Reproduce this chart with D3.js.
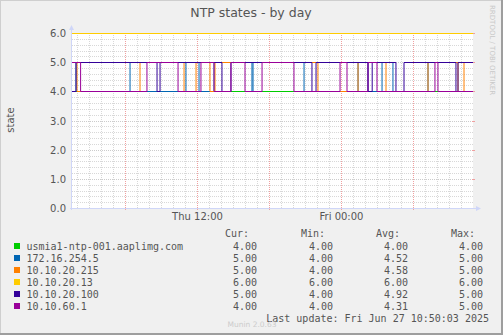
<!DOCTYPE html>
<html>
<head>
<meta charset="utf-8">
<script src="https://cdn.jsdelivr.net/npm/d3@7"></script>
<style>
  body { margin: 0; background: #F0F0F0; }
  svg text { font-family: "DejaVu Sans", sans-serif; fill: #555; }
  .mono { font-family: "DejaVu Sans Mono", monospace; font-size: 10px; }
</style>
</head>
<body>
<svg id="chart" width="503" height="335"></svg>
<script>
// hours counted from Thu 00:00 (Jun 26 2025)
const startHour = 1.583;
const endHour = 35.0;

// each series: change points [hour, value]
const seriesNames = ["usmia1-ntp-001.aaplimg.com", "172.16.254.5", "10.10.20.215", "10.10.20.13", "10.10.20.100", "10.10.60.1"];
const seriesColors = ["#00CC00", "#0066B3", "#FF8000", "#FFCC00", "#330099", "#990099"];

const greenSteps = [[1.583, 4]];
const blueSteps = [[1.583, 4], [1.92, 5], [6.42, 4], [11.08, 5], [12.17, 4], [13.42, 5], [16.58, 4], [16.67, 5],
    [20.92, 4], [25.42, 5], [26.25, 4], [27.42, 5], [28.33, 4], [31.25, 5]];
const orangeSteps = [[1.583, 5], [2.0, 4], [7.25, 5], [10.92, 4], [11.92, 5], [13.08, 4], [13.5, 5], [22.08, 4],
    [25.42, 5], [27.75, 4], [31.25, 5], [33.75, 4], [34.25, 5]];
const yellowSteps = [[1.583, 6]];
const purpleSteps = [[1.583, 4], [1.92, 5], [8.67, 4], [8.92, 5], [14.08, 4], [14.83, 5], [21.58, 4], [21.92, 5],
    [26.25, 4], [26.6, 5], [28.58, 4], [29.25, 5], [33.58, 4], [33.75, 5]];
const magentaSteps = [[1.583, 5], [2.3, 4], [7.83, 5], [10.42, 4], [12.33, 5], [13.42, 4], [14.83, 5], [16.0, 4],
    [17.42, 5], [20.08, 4], [23.92, 5], [24.5, 4], [26.25, 5], [27.0, 4], [31.83, 5], [32.08, 4]];

const curValues = ["4.00", "5.00", "5.00", "6.00", "5.00", "4.00"];
const minValues = ["4.00", "4.00", "4.00", "6.00", "4.00", "4.00"];
const avgValues = ["4.00", "4.52", "4.58", "6.00", "4.92", "4.31"];
const maxValues = ["4.00", "5.00", "5.00", "6.00", "5.00", "5.00"];

const yTicks = [0, 1, 2, 3, 4, 5, 6];
const xTicks = [12, 24];
const xTickLabels = ["Thu 12:00", "Fri 00:00"];

const svg = d3.select("#chart");
const W = 503, H = 335;
const pLeft = 72, pRight = 473, pTop = 33, pBottom = 208;

// frame
svg.append("rect").attr("width", W).attr("height", H).attr("fill", "#F0F0F0");
svg.append("line").attr("x1", 0).attr("x2", W).attr("y1", 0.5).attr("y2", 0.5).attr("stroke", "#CFCFCF");
svg.append("line").attr("x1", 0.5).attr("x2", 0.5).attr("y1", 0).attr("y2", H).attr("stroke", "#CFCFCF");
svg.append("line").attr("x1", 0).attr("x2", W).attr("y1", H - 1).attr("y2", H - 1).attr("stroke", "#9E9E9E").attr("stroke-width", 2);
svg.append("line").attr("x1", W - 1).attr("x2", W - 1).attr("y1", 0).attr("y2", H).attr("stroke", "#9E9E9E").attr("stroke-width", 2);

const x = d3.scaleLinear().domain([startHour, endHour]).range([pLeft, pRight]);
const y = d3.scaleLinear().domain([0, 6]).range([pBottom, pTop]);

// canvas
svg.append("rect").attr("x", pLeft).attr("y", pTop).attr("width", pRight - pLeft).attr("height", pBottom - pTop).attr("fill", "#fff");

const grid = svg.append("g").attr("shape-rendering", "crispEdges");
// minor grid
d3.range(0, 6.01, 0.2).forEach(v => {
    if (Math.abs(v - Math.round(v)) < 0.01) return;
    grid.append("line").attr("x1", pLeft).attr("x2", pRight).attr("y1", Math.round(y(v)) + 0.5).attr("y2", Math.round(y(v)) + 0.5)
        .attr("stroke", "#D8D8D8").attr("stroke-dasharray", "1,1");
});
d3.range(2, 35, 1).forEach(h => {
    if (h % 6 === 0) return;
    grid.append("line").attr("y1", pTop).attr("y2", pBottom).attr("x1", Math.round(x(h)) + 0.5).attr("x2", Math.round(x(h)) + 0.5)
        .attr("stroke", "#D8D8D8").attr("stroke-dasharray", "1,1");
});
// major grid
yTicks.forEach(v => {
    const yy = Math.round(y(v)) + 0.5;
    grid.append("line").attr("x1", pLeft).attr("x2", pRight).attr("y1", yy).attr("y2", yy)
        .attr("stroke", "#CCCCCC").attr("stroke-dasharray", "1,1");
    grid.append("line").attr("x1", pRight - 1).attr("x2", pRight + 2).attr("y1", yy).attr("y2", yy)
        .attr("stroke", "#F0A0A0");
});
[6, 12, 18, 24, 30].forEach(h => {
    grid.append("line").attr("y1", pTop).attr("y2", pBottom + 2).attr("x1", Math.round(x(h)) + 0.5).attr("x2", Math.round(x(h)) + 0.5)
        .attr("stroke", "#F0A0A0").attr("stroke-dasharray", "1,1");
});

// series lines
const line = d3.line().x(d => x(d[0])).y(d => Math.round(y(d[1])) + 0.5).curve(d3.curveStepAfter);
const allSteps = [greenSteps, blueSteps, orangeSteps, yellowSteps, purpleSteps, magentaSteps];
allSteps.forEach((steps, i) => {
    const pts = steps.concat([[endHour, steps[steps.length - 1][1]]]);
    svg.append("path").attr("d", line(pts)).attr("fill", "none")
        .attr("stroke", seriesColors[i]).attr("stroke-width", 1);
});

// axes
const axisColor = "#CFD6F8";
svg.append("line").attr("x1", pLeft - 0.5).attr("x2", pLeft - 0.5).attr("y1", pBottom + 2).attr("y2", pTop - 4).attr("stroke", axisColor);
svg.append("path").attr("d", `M${pLeft - 3},${pTop - 3} L${pLeft - 0.5},${pTop - 8} L${pLeft + 2},${pTop - 3} Z`).attr("fill", axisColor);
svg.append("line").attr("x1", pLeft - 2).attr("x2", pRight + 4).attr("y1", pBottom + 0.5).attr("y2", pBottom + 0.5).attr("stroke", axisColor);
svg.append("path").attr("d", `M${pRight + 3},${pBottom - 2} L${pRight + 8},${pBottom + 0.5} L${pRight + 3},${pBottom + 3} Z`).attr("fill", axisColor);

// tick labels
const yAxis = d3.axisLeft(y).tickValues(yTicks).tickFormat(d3.format(".1f")).tickSize(0).tickPadding(6);
const gy = svg.append("g").attr("transform", `translate(${pLeft},0)`).call(yAxis);
gy.select(".domain").remove();
gy.selectAll("text").attr("font-size", 10).attr("font-family", "DejaVu Sans").attr("fill", "#555").attr("dy", "0.35em");

const xAxis = d3.axisBottom(x).tickValues(xTicks).tickFormat((d, i) => xTickLabels[i]).tickSize(0).tickPadding(5);
const gx = svg.append("g").attr("transform", `translate(0,${pBottom})`).call(xAxis);
gx.select(".domain").remove();
gx.selectAll("text").attr("font-size", 10).attr("font-family", "DejaVu Sans").attr("fill", "#555");

// title and labels
svg.append("text").attr("x", 251).attr("y", 17).attr("text-anchor", "middle").attr("font-size", 12.5).text("NTP states - by day");
svg.append("text").attr("transform", "translate(14,120) rotate(-90)").attr("text-anchor", "middle").attr("font-size", 10).text("state");
svg.append("text").attr("transform", "translate(490,5) rotate(90)").attr("font-size", 7).style("fill", "#C8C8C8")
    .text("RRDTOOL / TOBI OETIKER");

// legend
const cols = [{ head: "Cur:", hx: 249, vx: 257, vals: curValues },
    { head: "Min:", hx: 325, vx: 333, vals: minValues },
    { head: "Avg:", hx: 400, vx: 408, vals: avgValues },
    { head: "Max:", hx: 475, vx: 483, vals: maxValues }];
cols.forEach(c => {
    svg.append("text").attr("class", "mono").attr("x", c.hx).attr("y", 237).attr("text-anchor", "end").text(c.head);
});
seriesNames.forEach((name, i) => {
    const by = 249.5 + i * 12;
    svg.append("rect").attr("x", 14).attr("y", by - 6.5).attr("width", 6).attr("height", 6).attr("fill", seriesColors[i]);
    svg.append("text").attr("class", "mono").attr("x", 26.5).attr("y", by).text(name);
    cols.forEach(c => {
        svg.append("text").attr("class", "mono").attr("x", c.vx).attr("y", by).attr("text-anchor", "end").text(c.vals[i]);
    });
});
svg.append("text").attr("class", "mono").attr("x", 489).attr("y", 321.5).attr("text-anchor", "end")
    .text("Last update: Fri Jun 27 10:50:03 2025");
svg.append("text").attr("x", 252).attr("y", 327).attr("text-anchor", "middle").attr("font-size", 7.5).style("fill", "#CCCCCC")
    .text("Munin 2.0.63");
</script>
</body>
</html>
